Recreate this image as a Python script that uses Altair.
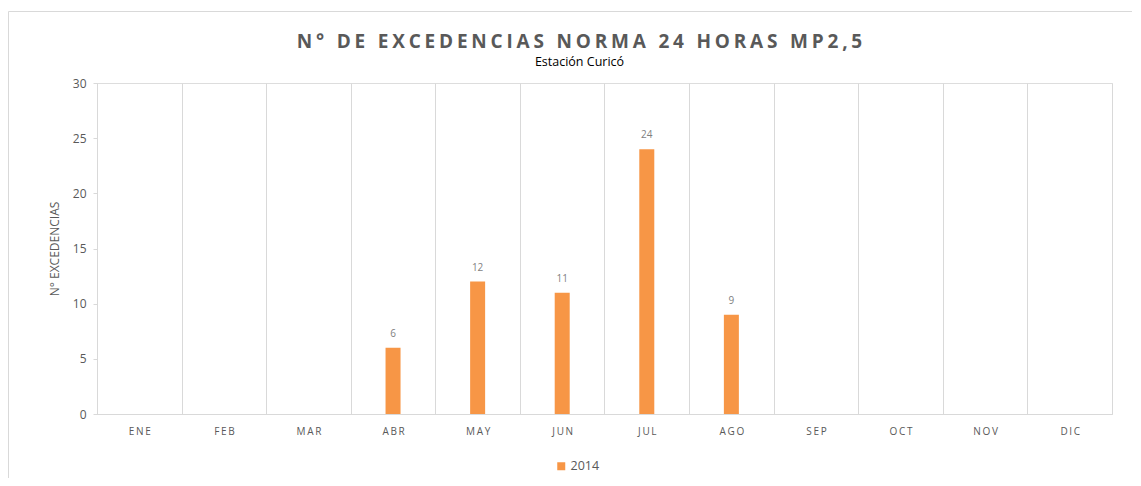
import altair as alt
import pandas as pd

meses = ["ENE", "FEB", "MAR", "ABR", "MAY", "JUN", "JUL", "AGO", "SEP", "OCT", "NOV", "DIC"]
excedencias = [None, None, None, 6, 12, 11, 24, 9, None, None, None, None]
serie = "2014"
titulo = "N° DE EXCEDENCIAS NORMA 24 HORAS MP2,5"
subtitulo = "Estación Curicó"
y_ticks = [0, 5, 10, 15, 20, 25, 30]
y_titulo = "N° EXCEDENCIAS"

df = pd.DataFrame({"mes": meses, "valor": excedencias, "serie": [serie] * len(meses)})

FONT = "Open Sans"
GRAY = "#595959"
GRID = "#d9d9d9"
ORANGE = "#F79646"
W, H = 1015, 331

titulo_esp = "\u200a\u200a".join(titulo)

x_enc = alt.X(
    "mes:N",
    sort=meses,
    scale=alt.Scale(domain=meses, paddingInner=0, paddingOuter=0),
    axis=alt.Axis(
        title=None, grid=True, gridColor=GRID, tickBand="extent", ticks=False,
        domainColor=GRID, labelPadding=12, labelFont=FONT, labelFontSize=10,
        labelColor=GRAY, labelAngle=0,
        labelExpr="join(split(datum.label, ''), '\u2009')",
    ),
)
y_enc = alt.Y(
    "valor:Q",
    scale=alt.Scale(domain=[0, 30]),
    axis=alt.Axis(
        values=y_ticks, title=y_titulo, grid=False, domainColor=GRID,
        tickColor=GRID, tickSize=4, labelPadding=7, labelFont=FONT,
        labelFontSize=12, labelColor=GRAY, titleFont=FONT, titleFontSize=12,
        titleColor=GRAY, titleFontWeight="normal", titlePadding=11,
    ),
)

base = alt.Chart(df)

bars = base.mark_bar(size=15).encode(
    x=x_enc,
    y=y_enc,
    color=alt.Color(
        "serie:N",
        scale=alt.Scale(range=[ORANGE]),
        legend=alt.Legend(
            orient="none", legendX=458, legendY=377, title=None,
            symbolType="square", symbolSize=64, symbolStrokeWidth=0,
            labelFont=FONT, labelFontSize=12.5, labelColor=GRAY, labelOffset=3,
            direction="horizontal",
        ),
    ),
)

labels = base.mark_text(dy=-11, baseline="alphabetic", font=FONT, fontSize=10, color="#7f7f7f").encode(
    x=alt.X("mes:N", sort=meses),
    y="valor:Q",
    text="valor:Q",
)

frame_df = pd.DataFrame({"k": [0]})
frame_top = alt.Chart(frame_df).mark_rule(color=GRID, strokeWidth=1).encode(
    x=alt.value(-88.5), x2=alt.value(1100), y=alt.value(-71.5)
)
frame_left = alt.Chart(frame_df).mark_rule(color=GRID, strokeWidth=1).encode(
    x=alt.value(-88.5), y=alt.value(-71.5), y2=alt.value(500)
)

chart = alt.layer(bars, labels, frame_top, frame_left).properties(
    width=W,
    height=H,
    title=alt.Title(
        titulo_esp, subtitle=subtitulo, font=FONT, fontSize=19, fontWeight="bold",
        color=GRAY, subtitleFont=FONT, subtitleFontSize=12.5, subtitleColor="#000000",
        anchor="middle", dx=-25, offset=-57, subtitlePadding=4,
    ),
    autosize=alt.AutoSizeParams(type="none"),
    padding={"left": 89, "top": 75, "right": 20, "bottom": 64},
).configure_view(stroke=None).configure(background="white")

chart.save("out.html", embed_options={"renderer": "svg", "actions": False})
